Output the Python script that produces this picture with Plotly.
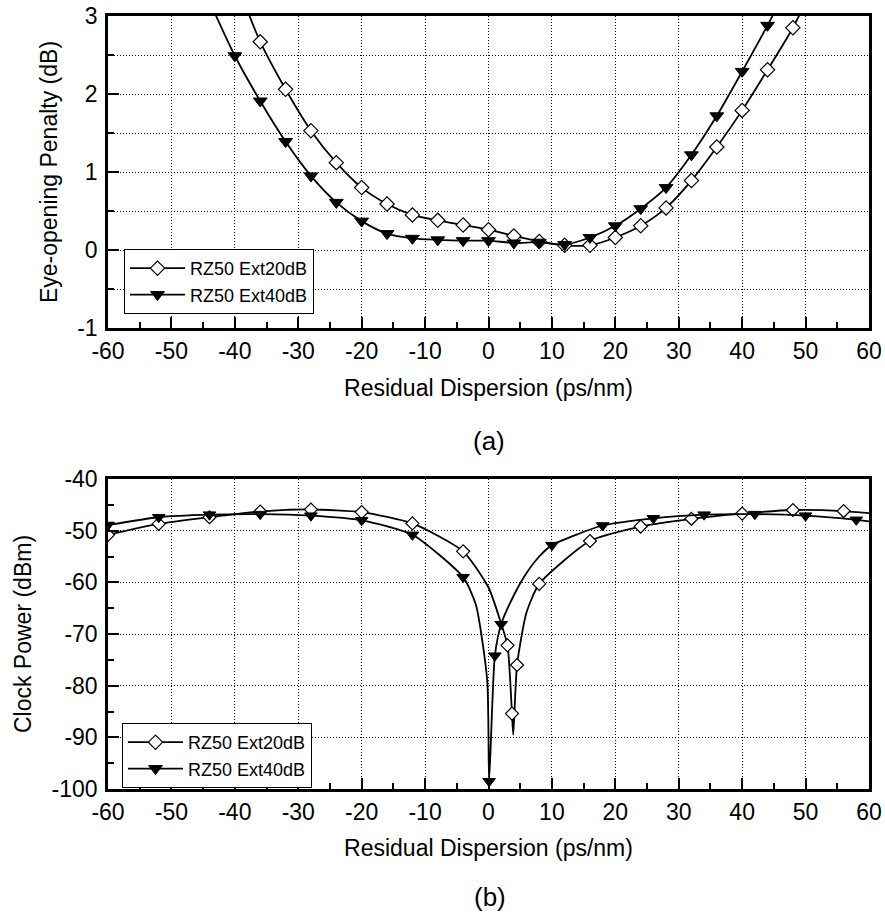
import plotly.graph_objects as go

# ---- (a) eye-opening penalty vs residual dispersion ----
eop_disp_20 = [-40, -36, -32, -28, -24, -20, -16, -12, -8, -4, 0, 4, 8, 12, 16, 20,
               24, 28, 32, 36, 40, 44, 48, 52]
eop_20 = [3.50, 2.67, 2.06, 1.53, 1.12, 0.80, 0.59, 0.45, 0.38, 0.32, 0.26, 0.18, 0.11,
          0.06, 0.06, 0.16, 0.31, 0.54, 0.89, 1.32, 1.79, 2.31, 2.85, 3.52]

eop_disp_40 = [-44, -40, -36, -32, -28, -24, -20, -16, -12, -8, -4, 0, 4, 8, 12, 16,
               20, 24, 28, 32, 36, 40, 44, 48]
eop_40 = [3.19, 2.49, 1.91, 1.39, 0.95, 0.61, 0.37, 0.21, 0.15, 0.13, 0.12, 0.12, 0.09,
          0.10, 0.07, 0.16, 0.31, 0.53, 0.80, 1.22, 1.72, 2.29, 2.88, 3.50]

# ---- (b) clock power vs residual dispersion ----
clk_disp_20 = [-60, -52, -44, -36, -28, -20, -12, -4, 0, 2, 3, 3.7, 3.9, 4.5, 6, 8,
               16, 24, 32, 40, 48, 56, 60]
clk_20 = [-50.8, -48.7, -47.4, -46.3, -45.9, -46.4, -48.6, -54.0, -61.0, -68.0, -72.2,
          -85.4, -89.5, -76.0, -65.8, -60.3, -52.0, -49.2, -47.7, -46.7, -46.0, -46.2, -46.6]
clk_sym_20 = [-60, -52, -44, -36, -28, -20, -12, -4, 3, 3.7, 4.5, 8, 16, 24, 32, 40, 48, 56]

clk_disp_40 = [-60, -52, -44, -36, -28, -20, -12, -4, -2, -0.2, 0.1, 1.0, 2.0, 4, 6, 8,
               10, 18, 26, 34, 42, 50, 58, 60]
clk_40 = [-48.9, -47.4, -46.9, -46.8, -47.1, -48.0, -50.8, -59.0, -64.3, -79.0, -98.5,
          -74.2, -68.1, -62.5, -58.2, -55.0, -52.8, -49.0, -47.6, -46.9, -46.8, -47.1,
          -47.9, -48.2]
clk_sym_40 = [-60, -52, -44, -36, -28, -20, -12, -4, 0.1, 1.0, 2.0, 10, 18, 26, 34, 42, 50, 58]

series_names = ["RZ50 Ext20dB", "RZ50 Ext40dB"]

# tick labels (plain hyphen minus)
disp_ticks = [-60, -50, -40, -30, -20, -10, 0, 10, 20, 30, 40, 50, 60]
eop_ticks = [-1, 0, 1, 2, 3]
clk_ticks = [-100, -90, -80, -70, -60, -50, -40]

FONT = "Arial, 'Liberation Sans', sans-serif"
W, H = 885, 920
LW = 1.8

diamond = dict(symbol="diamond", color="white", line=dict(color="black", width=1.2))
triangle = dict(symbol="triangle-down", color="black", line=dict(color="black", width=1))

fig = go.Figure()

# panel (a): every sample carries a symbol
fig.add_trace(go.Scatter(x=eop_disp_20, y=eop_20, mode="lines+markers", name=series_names[0],
                         line=dict(color="black", width=LW, shape="spline", smoothing=0.8),
                         marker=dict(size=11, **diamond), xaxis="x", yaxis="y", legend="legend"))
fig.add_trace(go.Scatter(x=eop_disp_40, y=eop_40, mode="lines+markers", name=series_names[1],
                         line=dict(color="black", width=LW, shape="spline", smoothing=0.8),
                         marker=dict(size=12, **triangle), xaxis="x", yaxis="y", legend="legend"))


# panel (b): curve through all samples, symbols only on a subset
def sym_points(xs, ys, keep):
    lut = dict(zip(xs, ys))
    return keep, [lut[k] for k in keep]


for xs, ys, keep, mk, sz, nm in [
    (clk_disp_20, clk_20, clk_sym_20, diamond, 10, series_names[0]),
    (clk_disp_40, clk_40, clk_sym_40, triangle, 11, series_names[1]),
]:
    fig.add_trace(go.Scatter(x=xs, y=ys, mode="lines", showlegend=False,
                             line=dict(color="black", width=LW, shape="spline", smoothing=0.6),
                             xaxis="x2", yaxis="y2", hoverinfo="skip"))
    sx, sy = sym_points(xs, ys, keep)
    fig.add_trace(go.Scatter(x=sx, y=sy, mode="markers", showlegend=False,
                             marker=dict(size=sz, **mk), xaxis="x2", yaxis="y2"))
    fig.add_trace(go.Scatter(x=[None], y=[None], mode="lines+markers", name=nm,
                             line=dict(color="black", width=LW),
                             marker=dict(size=sz + 1, **mk), xaxis="x2", yaxis="y2",
                             legend="legend2"))

xdom = [108 / W, 869 / W]
ydom_a = [1 - 328 / H, 1 - 16 / H]
ydom_b = [1 - 789 / H, 1 - 479 / H]

tickfont = dict(family=FONT, size=23, color="black")
titlefont = dict(family=FONT, size=23, color="black")
grid = dict(showgrid=True, gridcolor="black", gridwidth=1, griddash="1px,2px")
axline = dict(showline=True, linecolor="black", linewidth=2.5, mirror=True,
              ticks="inside", ticklen=11, tickwidth=2, tickcolor="black",
              zeroline=False, tickfont=tickfont, automargin=False)


def labels(vals):
    return [str(v) for v in vals]


def xaxis_cfg(anchor, standoff):
    return dict(domain=xdom, anchor=anchor, range=[-60, 60],
                tickmode="array", tickvals=disp_ticks, ticktext=labels(disp_ticks),
                minor=dict(dtick=5, tick0=0, ticklen=6, tickwidth=2, tickcolor="black",
                           ticks="inside"),
                title=dict(text="Residual Dispersion (ps/nm)", font=titlefont, standoff=standoff),
                ticklabelstandoff=1, **grid, **axline)


legend_style = dict(xanchor="left", yanchor="top", bgcolor="white", bordercolor="black",
                    borderwidth=1, font=dict(family=FONT, size=18, color="black"),
                    itemwidth=55, tracegroupgap=0)

fig.update_layout(
    width=W, height=H,
    margin=dict(l=0, r=0, t=0, b=0),
    paper_bgcolor="white", plot_bgcolor="white",
    font=dict(family=FONT, color="black"),
    xaxis=xaxis_cfg("y", 17),
    yaxis=dict(domain=ydom_a, anchor="x", range=[-1, 3],
               tickmode="array", tickvals=eop_ticks, ticktext=labels(eop_ticks),
               minor=dict(dtick=0.5, tick0=0, ticklen=6, tickwidth=2, tickcolor="black",
                          ticks="inside", showgrid=True, gridcolor="black", gridwidth=1,
                          griddash="1px,2px"),
               title=dict(text="Eye-opening Penalty (dB)", font=titlefont, standoff=14),
               ticklabelstandoff=3, **grid, **axline),
    xaxis2=xaxis_cfg("y2", 16),
    yaxis2=dict(domain=ydom_b, anchor="x2", range=[-100, -40],
                tickmode="array", tickvals=clk_ticks, ticktext=labels(clk_ticks),
                minor=dict(dtick=5, tick0=0, ticklen=6, tickwidth=2, tickcolor="black",
                           ticks="inside"),
                title=dict(text="Clock Power (dBm)", font=titlefont, standoff=14),
                ticklabelstandoff=3, **grid, **axline),
    legend=dict(x=124 / W, y=1 - 249 / H, **legend_style),
    legend2=dict(x=122 / W, y=1 - 723 / H, **legend_style),
    annotations=[
        dict(text="(a)", x=488.5 / W, y=1 - 441 / H, xref="paper", yref="paper",
             xanchor="center", yanchor="middle", showarrow=False,
             font=dict(family=FONT, size=26, color="black")),
        dict(text="(b)", x=489.5 / W, y=1 - 897 / H, xref="paper", yref="paper",
             xanchor="center", yanchor="middle", showarrow=False,
             font=dict(family=FONT, size=26, color="black")),
    ],
)

fig.write_html("out.html")
